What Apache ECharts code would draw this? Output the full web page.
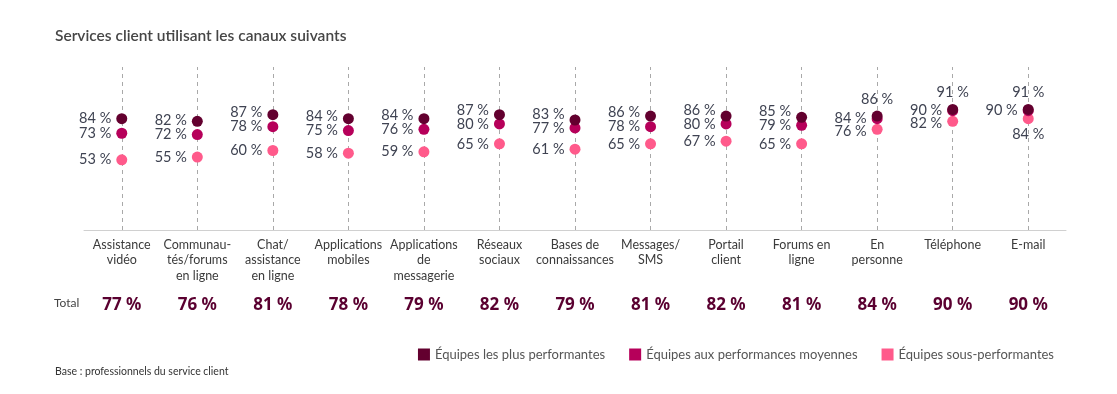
<!DOCTYPE html>
<html>
<head>
<meta charset="utf-8">
<script src="https://cdn.jsdelivr.net/npm/echarts@6/dist/echarts.min.js"></script>
<style>
html,body{margin:0;padding:0;background:#fff;}
#chart{width:1117px;height:394px;}
</style>
</head>
<body>
<div id="chart"></div>
<script>
const categories = ['Assistance\nvidéo','Communau-\ntés/forums\nen ligne','Chat/\nassistance\nen ligne','Applications\nmobiles','Applications\nde\nmessagerie','Réseaux\nsociaux','Bases de\nconnaissances','Messages/\nSMS','Portail\nclient','Forums en\nligne','En\npersonne','Téléphone','E-mail'];
const topTeams = [84,82,87,84,84,87,83,86,86,85,86,91,91];
const avgTeams = [73,72,78,75,76,80,77,78,80,79,84,90,90];
const lowTeams = [53,55,60,58,59,65,61,65,67,65,76,82,84];
const totals = [77,76,81,78,79,82,79,81,82,81,84,90,90];
const seriesNames = ['Équipes les plus performantes','Équipes aux performances moyennes','Équipes sous-performantes'];

const colors = ['#63002f','#b6005a','#ff5a8b'];
// label placement exceptions (index -> position)
const labelOverrides = [
  {10:'top',11:'top',12:'top'},
  {},
  {12:'bottom'}
];

const Y_MAX = 123, GRID_TOP = 67, GRID_BOTTOM = 164, H = 394;
const pxPerUnit = (H - GRID_TOP - GRID_BOTTOM) / Y_MAX;
const MIN_SEP = 14;
const seriesVals = [topTeams, avgTeams, lowTeams];

function labelShift(si, i){
  // push a left-side label away from its neighbour's left-side label if too close
  if(labelOverrides[si][i]) return 0;
  if(si === 0){
    if(labelOverrides[1][i]) return 0;
    const sep = (topTeams[i]-avgTeams[i])*pxPerUnit;
    return sep < MIN_SEP ? -(MIN_SEP - sep) : 0;
  }
  if(si === 2){
    if(labelOverrides[1][i]) return 0;
    const sep = (avgTeams[i]-lowTeams[i])*pxPerUnit;
    return sep < MIN_SEP ? (MIN_SEP - sep)*0.6 : 0;
  }
  return 0;
}

const labelFont = {fontFamily:'Lato', fontSize:14.5, color:'#3f4352'};

function buildData(vals, si){
  return vals.map((v,i)=>{
    const pos = labelOverrides[si][i];
    const item = {value:v};
    if(pos){ item.label = {position:pos, distance: pos==='top'?4:3}; }
    else { const s = labelShift(si,i); if(s) item.label = {offset:[0, s]}; }
    return item;
  });
}

const chart = echarts.init(document.getElementById('chart'));
const series = seriesVals.map((vals,si)=>({
  name: seriesNames[si],
  type:'scatter',
  data: buildData(vals, si),
  symbolSize: 11,
  z: 10 - si,
  itemStyle:{color:colors[si], opacity:1},
  label:{show:true, position:'left', distance:5, formatter: p=>p.value+' %', ...labelFont},
  emphasis:{disabled:true}
}));
series[2].markLine = {
  silent:true, symbol:'none', animation:false,
  lineStyle:{type:[4,4], color:'#a9a9a9', width:1},
  label:{show:false},
  data: categories.map(c=>({xAxis:c}))
};

chart.setOption({
  animation:false,
  title:{text:'Services client utilisant les canaux suivants', left:50, top:23,
    textStyle:{fontFamily:'Lato', fontSize:15.5, fontWeight:600, color:'#464646'}},
  legend:{
    data: seriesNames.map((n,i)=>({name:n, itemStyle:{color:colors[i]}})),
    right:58, top:343, icon:'rect', itemWidth:12, itemHeight:12, itemGap:24,
    textStyle:{fontFamily:'Lato', fontSize:13, color:'#555'}
  },
  graphic:[
    {type:'text', left:55, top:366, style:{text:'Base : professionnels du service client', font:'10.5px Lato', fill:'#333'}},
    {type:'text', left:54, top:297, style:{text:'Total', font:'12px Lato', fill:'#444'}}
  ],
  grid:{left:84, right:51, top:GRID_TOP, bottom:GRID_BOTTOM},
  xAxis:[
    {type:'category', data:categories, boundaryGap:true,
      axisLine:{lineStyle:{color:'#d0d0d0'}}, axisTick:{show:false},
      axisLabel:{interval:0, margin:7, fontFamily:'Lato', fontSize:12.5, color:'#3b3b3b', lineHeight:15.5}},
    {type:'category', data:categories, boundaryGap:true, position:'bottom', offset:59,
      axisLine:{show:false}, axisTick:{show:false},
      axisLabel:{interval:0, margin:8, formatter:(v,i)=>totals[i]+' %',
        fontFamily:'Noto Sans', fontWeight:'bold', fontSize:17, color:'#5a0030'}}
  ],
  yAxis:{type:'value', min:0, max:Y_MAX, show:false},
  series
});
</script>
</body>
</html>
